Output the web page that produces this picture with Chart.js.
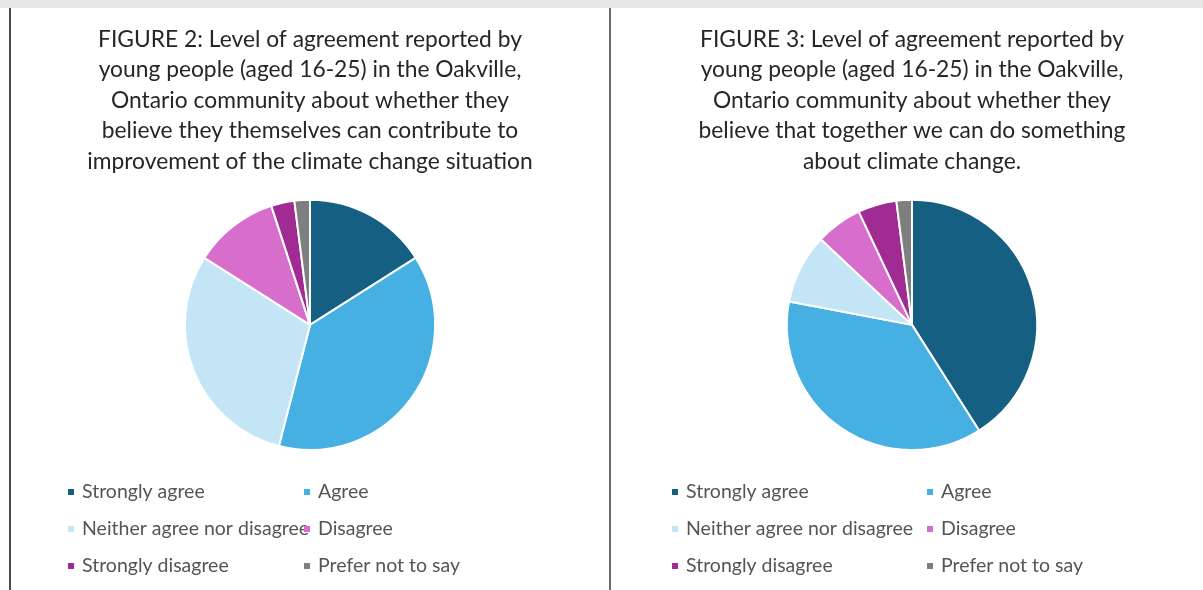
<!DOCTYPE html>
<html>
<head>
<meta charset="utf-8">
<script src="https://cdn.jsdelivr.net/npm/chart.js@4.4.1/dist/chart.umd.min.js"></script>
<style>
  html, body { margin: 0; padding: 0; background: #ffffff; width: 1203px; height: 590px; overflow: hidden; }
  #topband { position: absolute; left: 0; top: 0; width: 1203px; height: 8px; background: #e6e7e9; }
  #lline { position: absolute; left: 9px; top: 8px; width: 2px; height: 582px; background: #4a4a4a; }
  #mline { position: absolute; left: 609px; top: 8px; width: 2px; height: 582px; background: #6a6a6a; }
  .box { position: absolute; top: 8px; width: 580px; height: 582px; }
  #b1 { left: 20px; }
  #b2 { left: 622px; }
</style>
</head>
<body>
<div id="topband"></div>
<div id="lline"></div>
<div id="mline"></div>
<div class="box" id="b1"><canvas id="c1"></canvas></div>
<div class="box" id="b2"><canvas id="c2"></canvas></div>
<script>
const categories = ["Strongly agree", "Agree", "Neither agree nor disagree", "Disagree", "Strongly disagree", "Prefer not to say"];
const fig2Values = [16, 38, 30, 11, 3, 2];
const fig3Values = [41, 37, 9, 6, 5, 2];
const fig2Title = ["FIGURE 2: Level of agreement reported by", "young people (aged 16-25) in the Oakville,", "Ontario community about whether they", "believe they themselves can contribute to", "improvement of the climate change situation"];
const fig3Title = ["FIGURE 3: Level of agreement reported by", "young people (aged 16-25) in the Oakville,", "Ontario community about whether they", "believe that together we can do something", "about climate change."];
const sliceColors = ["#156082", "#45b0e1", "#c4e5f6", "#d86ecc", "#a02b93", "#7f7f7f"];

const gridLegend = {
  id: 'gridLegend',
  afterDraw(chart, args, opts) {
    const ctx = chart.ctx;
    const labels = chart.data.labels;
    const colors = chart.data.datasets[0].backgroundColor;
    ctx.save();
    ctx.font = opts.font;
    ctx.textBaseline = 'middle';
    labels.forEach((lab, i) => {
      const col = i % 2, row = Math.floor(i / 2);
      const mx = opts.cols[col], y = opts.rows[row];
      ctx.fillStyle = colors[i];
      ctx.fillRect(mx, y - 3, 6, 6);
      ctx.fillStyle = opts.color;
      ctx.fillText(lab, mx + 14, y);
    });
    ctx.restore();
  }
};

function makeChart(id, values, title, cols) {
  return new Chart(document.getElementById(id), {
    type: 'pie',
    data: {
      labels: categories,
      datasets: [{
        data: values,
        backgroundColor: sliceColors,
        borderColor: '#ffffff',
        borderWidth: 2
      }]
    },
    plugins: [gridLegend],
    options: {
      responsive: true,
      maintainAspectRatio: false,
      animation: false,
      layout: { padding: { top: 0, bottom: 139, left: 0, right: 0 } },
      plugins: {
        legend: { display: false },
        tooltip: { enabled: false },
        title: {
          display: true,
          text: title,
          color: '#262626',
          font: { family: 'Lato', size: 22.8, weight: 'normal', lineHeight: 1.34 },
          padding: { top: 16, bottom: 22 }
        },
        gridLegend: {
          font: '19.5px Lato',
          color: '#555555',
          cols: cols,
          rows: [484, 521, 558]
        }
      }
    }
  });
}

makeChart('c1', fig2Values, fig2Title, [48, 284]);
makeChart('c2', fig3Values, fig3Title, [50, 305]);
</script>
</body>
</html>
